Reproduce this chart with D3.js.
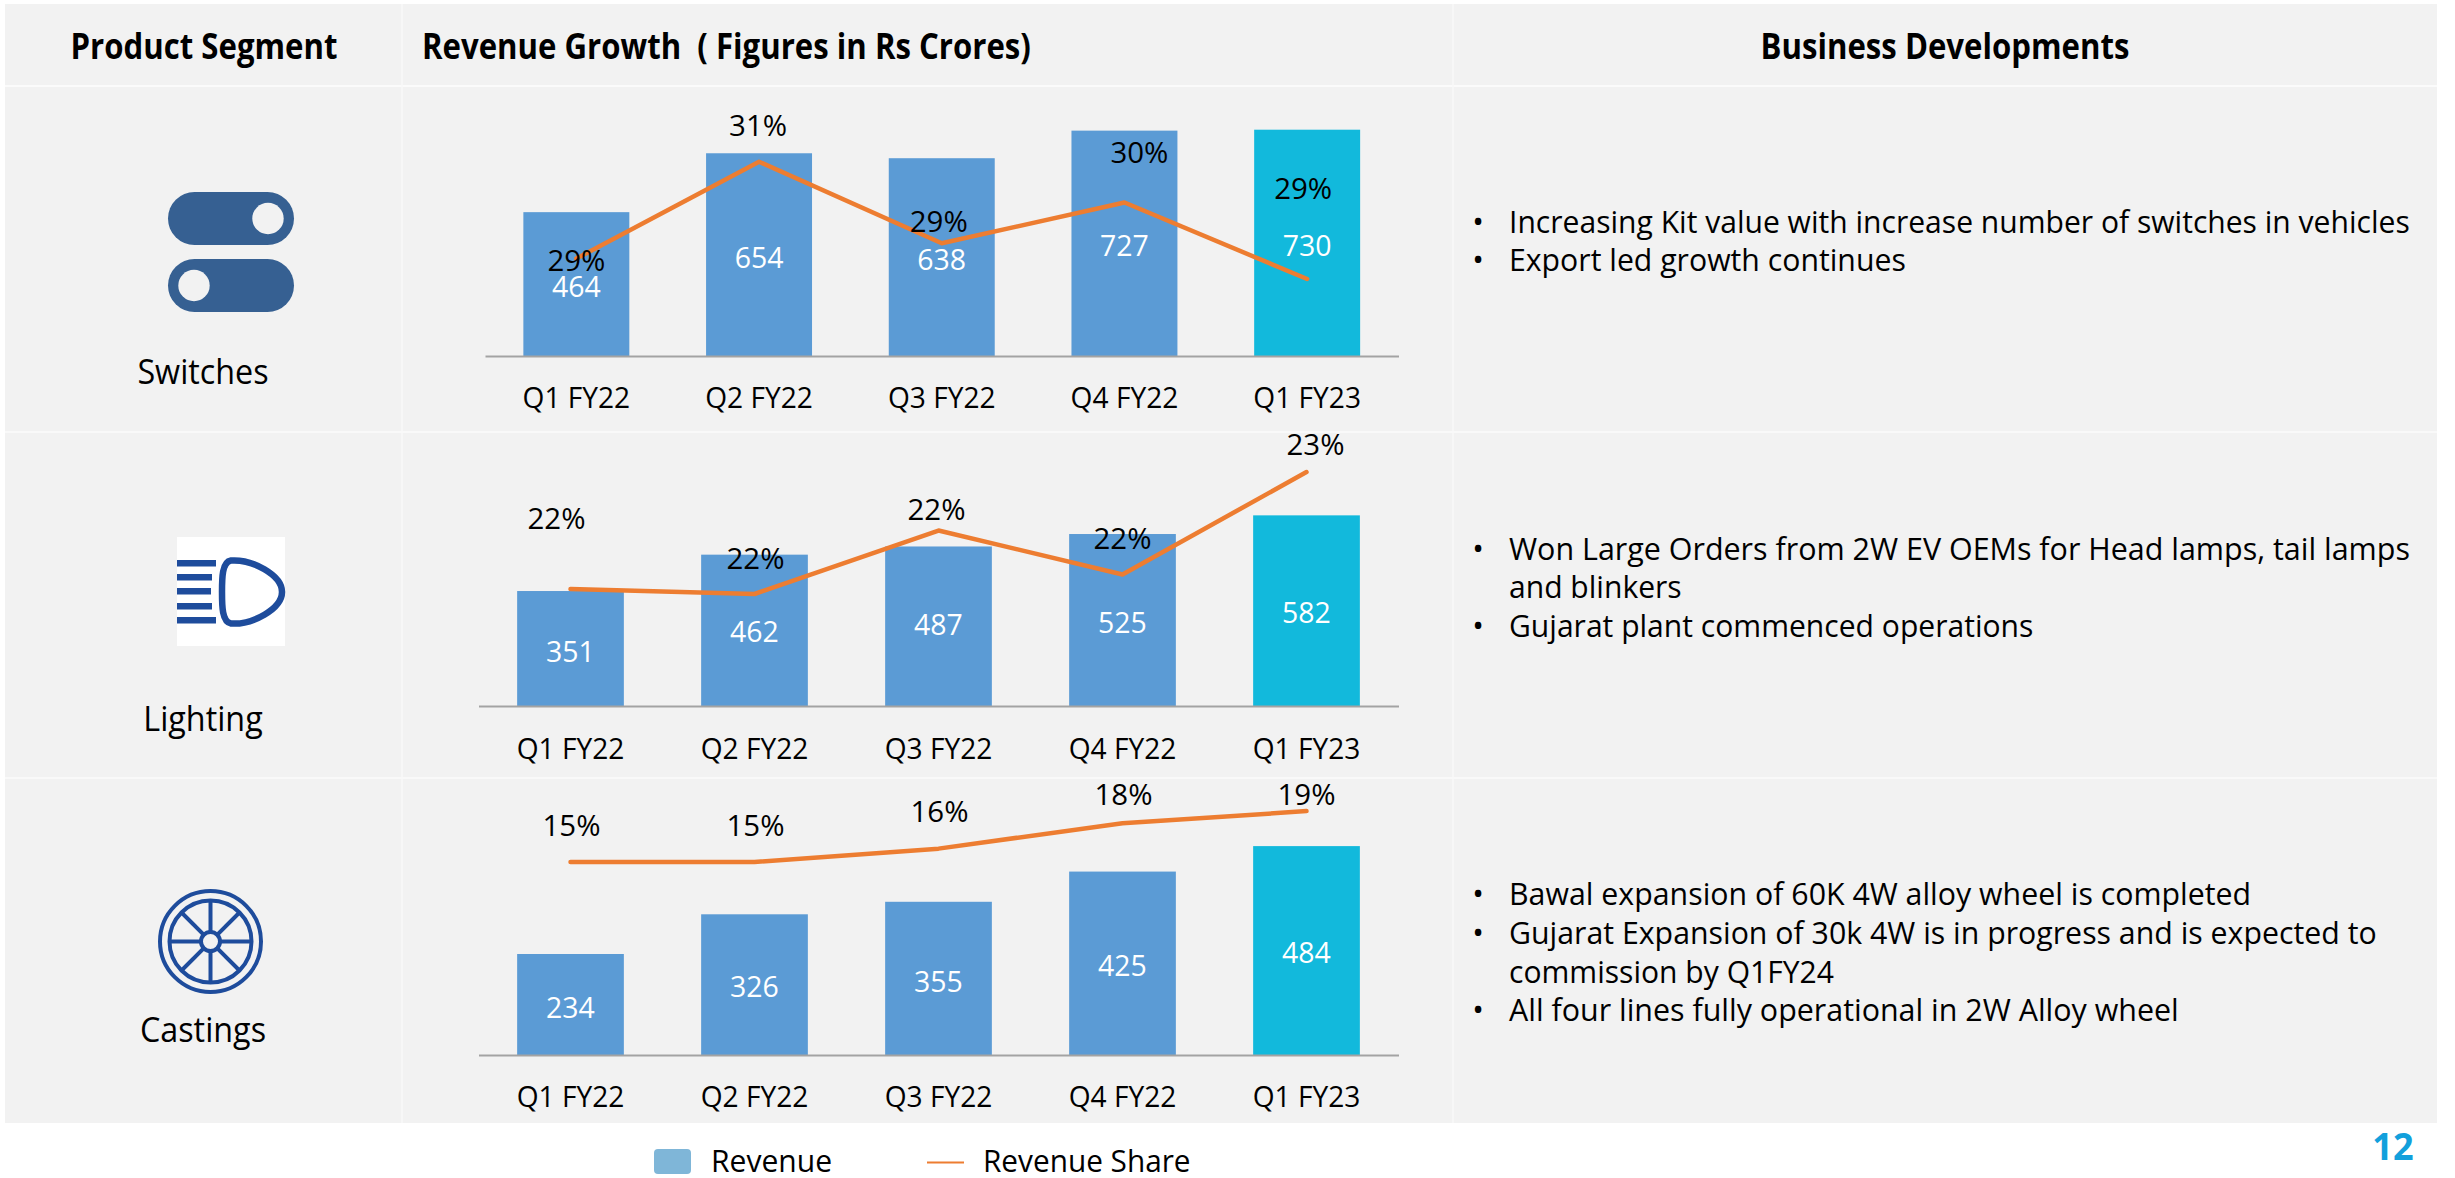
<!DOCTYPE html>
<html>
<head>
    <meta charset="utf-8" />
    <script src="https://cdnjs.cloudflare.com/ajax/libs/d3/7.8.5/d3.min.js"></script>
    <title>Product segments</title>
    <style>
        body { margin: 0; background: #fff; }
        svg { display: block; }
        text { font-family: "Open Sans", sans-serif; fill: #000; white-space: pre; }
        .domain { stroke: #a3a3a3; stroke-width: 2px; }
    </style>
</head>
<body>
    <script>
        // values
        var quarters = ["Q1 FY22", "Q2 FY22", "Q3 FY22", "Q4 FY22", "Q1 FY23"];
        var switchesRevenue = [464, 654, 638, 727, 730];
        var lightingRevenue = [351, 462, 487, 525, 582];
        var castingsRevenue = [234, 326, 355, 425, 484];
        var switchesShare = [29.0, 30.9, 29.3, 30.1, 28.6];
        var lightingShare = [21.64, 21.6, 22.12, 21.76, 22.6];
        var castingsShare = [15.4, 15.4, 16.4, 18.3, 19.2];
        var headers = ["Product Segment", "Revenue Growth  ( Figures in Rs Crores)", "Business Developments"];
        var segments = ["Switches", "Lighting", "Castings"];
        var switchesNotes = ["Increasing Kit value with increase number of switches in vehicles", "Export led growth continues"];
        var lightingNotes = ["Won Large Orders from 2W EV OEMs for Head lamps, tail lamps", "and blinkers", "Gujarat plant commenced operations"];
        var castingsNotes = ["Bawal expansion of 60K 4W alloy wheel is completed", "Gujarat Expansion of 30k 4W is in progress and is expected to", "commission by Q1FY24", "All four lines fully operational in 2W Alloy wheel"];

        var svgWidth = 2455, svgHeight = 1178;
        var panelColor = "#f2f2f2", barColor = "#5b9bd5", lastBarColor = "#12b9dc",
            lineColor = "#ed7d31", iconBlue = "#1e4c9c";
        var textSize = 29, noteSize = 31, squeeze = 0.97;

        var svg = d3.select("body").append("svg")
            .attr("width", svgWidth)
            .attr("height", svgHeight);

        // squeeze Open Sans down to the narrower face of the slide
        function fit(sel, k) {
            sel.each(function() {
                d3.select(this)
                    .attr("textLength", this.getComputedTextLength() * k)
                    .attr("lengthAdjust", "spacingAndGlyphs");
            });
            return sel;
        }

        function label(x, y, str, anchor, size, k, weight) {
            return fit(svg.append("text")
                .attr("x", x).attr("y", y).attr("dy", "0.35em")
                .attr("text-anchor", anchor)
                .style("font-size", size + "px")
                .style("font-weight", weight || 400)
                .text(str), k);
        }

        // table background and cell rules
        svg.append("rect").attr("x", 5).attr("y", 4).attr("width", 2432).attr("height", 1119).attr("fill", panelColor);
        [86, 432, 778].forEach(function(y, i) {
            svg.append("line").attr("x1", 5).attr("x2", 2437).attr("y1", y).attr("y2", y)
                .attr("stroke", "#fbfbfb").attr("stroke-width", i == 0 ? 2 : 1.5);
        });
        [402, 1453].forEach(function(x) {
            svg.append("line").attr("x1", x).attr("x2", x).attr("y1", 4).attr("y2", 1123)
                .attr("stroke", "#f9f9f9").attr("stroke-width", 1.5);
        });

        // header row
        [[204, "middle", 0], [422, "start", 1], [1945, "middle", 2]].forEach(function(h) {
            label(h[0], 47, headers[h[2]], h[1], 35, 0.89, 700);
        });

        function drawChart(cfg) {
            var x = d3.scaleBand().domain(quarters)
                .range([cfg.left, 1398.5])
                .paddingInner(0.42).paddingOuter(0.21);
            var y = d3.scaleLinear().domain(cfg.revDomain).range([cfg.base, cfg.revTop]);
            var yShare = d3.scaleLinear().domain(cfg.shareDomain).range(cfg.shareRange);
            var g = svg.append("g");

            g.selectAll(".bar").data(cfg.revenue).enter().append("rect")
                .attr("class", "bar")
                .attr("x", function(d, i) { return x(quarters[i]); })
                .attr("y", function(d) { return y(d); })
                .attr("width", x.bandwidth())
                .attr("height", function(d) { return cfg.base - y(d); })
                .attr("fill", function(d, i) { return i == 4 ? lastBarColor : barColor; });

            var axis = g.append("g")
                .attr("transform", "translate(0," + cfg.base + ")")
                .call(d3.axisBottom(x).tickSize(0).tickSizeOuter(0));
            axis.selectAll(".tick text")
                .attr("y", cfg.tickGap).attr("dy", "0.35em")
                .style("font-size", textSize + "px")
                .style("font-family", "'Open Sans', sans-serif")
                .call(fit, squeeze);

            var line = d3.line()
                .x(function(d, i) { return x(quarters[i]) + x.bandwidth() / 2; })
                .y(function(d) { return yShare(d); });
            g.append("path").datum(cfg.share)
                .attr("d", line)
                .attr("fill", "none")
                .attr("stroke", lineColor)
                .attr("stroke-width", 4.5)
                .attr("stroke-linecap", "round")
                .attr("stroke-linejoin", "round");

            g.selectAll(".value").data(cfg.revenue).enter().append("text")
                .attr("class", "value")
                .attr("x", function(d, i) { return x(quarters[i]) + x.bandwidth() / 2; })
                .attr("y", function(d, i) { return (y(d) + cfg.base) / 2 + cfg.valueDy[i]; })
                .attr("dy", "0.35em")
                .attr("text-anchor", "middle")
                .style("font-size", textSize + "px")
                .style("fill", "#fff")
                .text(function(d) { return d; })
                .call(fit, 0.98);

            g.selectAll(".share").data(cfg.share).enter().append("text")
                .attr("class", "share")
                .attr("x", function(d, i) { return x(quarters[i]) + x.bandwidth() / 2 + cfg.labelDx[i]; })
                .attr("y", function(d, i) { return yShare(d) + cfg.labelDy[i]; })
                .attr("dy", "0.35em")
                .attr("text-anchor", "middle")
                .style("font-size", "30px")
                .text(function(d) { return Math.round(d) + "%"; })
                .call(fit, 0.98);
        }

        drawChart({
            revenue: switchesRevenue, share: switchesShare, left: 485, base: 356, tickGap: 42,
            revDomain: [0, 800], revTop: 108,
            shareDomain: [28, 31], shareRange: [309.6, 156.6],
            valueDy: [3, 3, 3, 3, 3],
            labelDx: [0, -1, -3, 15, -4], labelDy: [2, -36, -22, -50, -91]
        });
        drawChart({
            revenue: lightingRevenue, share: lightingShare, left: 478.5, base: 706, tickGap: 43,
            revDomain: [0, 700], revTop: 476.7,
            shareDomain: [21, 23], shareRange: [667.2, 423.2],
            valueDy: [3, 2, -1, 3, 2],
            labelDx: [-14, 1, -2, 0, 9], labelDy: [-71, -36, -21, -36, -28]
        });
        drawChart({
            revenue: castingsRevenue, share: castingsShare, left: 478.5, base: 1055, tickGap: 42,
            revDomain: [0, 500], revTop: 839.2,
            shareDomain: [0, 20], shareRange: [1068.4, 800.4],
            valueDy: [3, 2, 3, 3, 2],
            labelDx: [1, 1, 1, 1, 0], labelDy: [-37, -37, -37, -29, -17]
        });

        // segment names
        [372, 719, 1030].forEach(function(y, i) {
            label(203, y, segments[i], "middle", 34, 0.95);
        });

        // switches icon
        [[192, 268], [259, 194]].forEach(function(p) {
            svg.append("rect").attr("x", 168).attr("y", p[0]).attr("width", 126).attr("height", 53)
                .attr("rx", 26.5).attr("fill", "#366092");
            svg.append("circle").attr("cx", p[1]).attr("cy", p[0] + 26.5).attr("r", 15.7).attr("fill", panelColor);
        });

        // lighting icon
        svg.append("rect").attr("x", 177).attr("y", 537).attr("width", 108).attr("height", 109).attr("fill", "#fff");
        [[560, 216], [574, 212], [588, 211], [603, 212], [617, 216]].forEach(function(s) {
            svg.append("rect").attr("x", 177).attr("y", s[0]).attr("width", s[1] - 177).attr("height", 6.5).attr("fill", iconBlue);
        });
        svg.append("path")
            .attr("d", "M231,560.5 C252,559 282,575 282,592 C282,609 252,625 231,623.5 C222,622 222,606 222,592 C222,578 222,562 231,560.5 Z")
            .attr("fill", "none").attr("stroke", iconBlue).attr("stroke-width", 6.5);

        // castings icon
        var wheel = svg.append("g").attr("transform", "translate(210.5,941.5)");
        d3.range(8).forEach(function(i) {
            var a = i * Math.PI / 4;
            wheel.append("line")
                .attr("x1", 9 * Math.cos(a)).attr("y1", 9 * Math.sin(a))
                .attr("x2", 41 * Math.cos(a)).attr("y2", 41 * Math.sin(a))
                .attr("stroke", iconBlue).attr("stroke-width", 4);
        });
        [[50.5, 4], [41, 4], [9.5, 4]].forEach(function(c) {
            wheel.append("circle").attr("r", c[0]).attr("fill", "none")
                .attr("stroke", iconBlue).attr("stroke-width", c[1]);
        });

        // business developments, bullet false means a wrapped line
        function notes(lines, ys, bullets, widths) {
            lines.forEach(function(str, i) {
                if (bullets[i]) label(1478, ys[i], "•", "middle", noteSize, 1);
                label(1509, ys[i], str, "start", noteSize, widths[i]);
            });
        }
        notes(switchesNotes, [222, 260], [true, true], [squeeze, 0.975]);
        notes(lightingNotes, [549, 587.5, 626], [true, false, true], [0.982, squeeze, squeeze]);
        notes(castingsNotes, [894.5, 933, 972, 1010], [true, true, false, true], [0.978, 0.977, squeeze, 0.981]);

        // legend
        svg.append("rect").attr("x", 654).attr("y", 1149).attr("width", 37).attr("height", 25).attr("rx", 4).attr("fill", "#7fb6d8");
        label(711, 1161, "Revenue", "start", noteSize, squeeze);
        svg.append("line").attr("x1", 927).attr("x2", 964).attr("y1", 1162.5).attr("y2", 1162.5)
            .attr("stroke", lineColor).attr("stroke-width", 2);
        label(983, 1161, "Revenue Share", "start", noteSize, 0.96);

        // page number
        label(2393, 1146.5, "12", "middle", 38, 0.95, 700).style("fill", "#12a0dc");
    </script>
</body>
</html>
